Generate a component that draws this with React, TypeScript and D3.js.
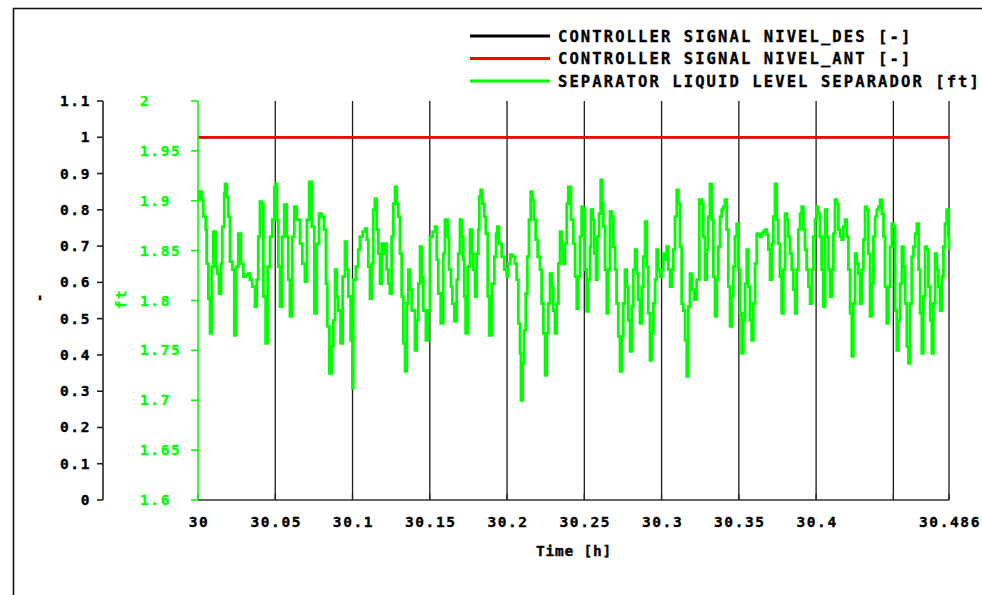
import React from 'react';
import * as d3 from 'd3';

const xTicks = [30, 30.05, 30.1, 30.15, 30.2, 30.25, 30.3, 30.35, 30.4, 30.45, 30.486];
const xTickLabels = ['30', '30.05', '30.1', '30.15', '30.2', '30.25', '30.3', '30.35', '30.4', '', '30.486'];
const leftTicks = [0, 0.1, 0.2, 0.3, 0.4, 0.5, 0.6, 0.7, 0.8, 0.9, 1, 1.1];
const leftTickLabels = ['0', '0.1', '0.2', '0.3', '0.4', '0.5', '0.6', '0.7', '0.8', '0.9', '1', '1.1'];
const rightTicks = [1.6, 1.65, 1.7, 1.75, 1.8, 1.85, 1.9, 1.95, 2];
const rightTickLabels = ['1.6', '1.65', '1.7', '1.75', '1.8', '1.85', '1.9', '1.95', '2'];

const signalTime = [30, 30.486];
const nivelDes = [1, 1];
const nivelAnt = [1, 1];

const legendLabels = [
  'CONTROLLER SIGNAL NIVEL_DES [-]',
  'CONTROLLER SIGNAL NIVEL_ANT [-]',
  'SEPARATOR LIQUID LEVEL SEPARADOR [ft]',
];
const legendColors = ['#000000', '#ff0000', '#00ff00'];

const levelSeries: [number, number][] = [
  [30.0, 1.902], [30.0006, 1.909], [30.0024, 1.901], [30.0034, 1.884], [30.005, 1.871], [30.0056, 1.837],
  [30.0067, 1.802], [30.0078, 1.767], [30.0089, 1.834], [30.0099, 1.869], [30.0115, 1.834], [30.0125, 1.827],
  [30.0136, 1.807], [30.0149, 1.837], [30.0157, 1.874], [30.017, 1.907], [30.0175, 1.917], [30.0186, 1.904],
  [30.0196, 1.884], [30.0207, 1.839], [30.0222, 1.831], [30.0235, 1.765], [30.0246, 1.834], [30.0261, 1.867],
  [30.0278, 1.837], [30.0293, 1.824], [30.0309, 1.826], [30.0325, 1.827], [30.0336, 1.821], [30.0351, 1.814],
  [30.0369, 1.794], [30.038, 1.821], [30.039, 1.864], [30.0401, 1.899], [30.0412, 1.897], [30.0423, 1.804],
  [30.0438, 1.757], [30.0451, 1.834], [30.0466, 1.864], [30.0481, 1.881], [30.0494, 1.914], [30.0503, 1.917],
  [30.0511, 1.881], [30.052, 1.834], [30.0531, 1.794], [30.0545, 1.864], [30.0558, 1.896], [30.0574, 1.864],
  [30.0584, 1.821], [30.0595, 1.784], [30.061, 1.864], [30.0623, 1.894], [30.0639, 1.881], [30.066, 1.857],
  [30.0675, 1.837], [30.0692, 1.819], [30.0705, 1.881], [30.072, 1.919], [30.0736, 1.874], [30.0753, 1.787],
  [30.0768, 1.857], [30.0783, 1.887], [30.08, 1.884], [30.0815, 1.871], [30.0828, 1.817], [30.0837, 1.774],
  [30.085, 1.727], [30.0865, 1.754], [30.0876, 1.78], [30.0887, 1.831], [30.0898, 1.804], [30.0908, 1.79],
  [30.0923, 1.757], [30.0936, 1.824], [30.0951, 1.859], [30.0962, 1.831], [30.0973, 1.804], [30.0988, 1.76],
  [30.0999, 1.712], [30.1005, 1.821], [30.1022, 1.834], [30.1037, 1.851], [30.1048, 1.864], [30.1066, 1.869],
  [30.1081, 1.872], [30.1092, 1.861], [30.1102, 1.834], [30.1113, 1.802], [30.1124, 1.837], [30.1134, 1.891],
  [30.1145, 1.902], [30.1156, 1.871], [30.1167, 1.847], [30.1178, 1.817], [30.1189, 1.857], [30.1199, 1.847],
  [30.121, 1.857], [30.1221, 1.831], [30.1231, 1.817], [30.1242, 1.807], [30.1253, 1.864], [30.1264, 1.897],
  [30.1275, 1.914], [30.1286, 1.897], [30.1296, 1.884], [30.1307, 1.847], [30.1318, 1.804], [30.1329, 1.757],
  [30.134, 1.729], [30.1351, 1.797], [30.1361, 1.831], [30.1372, 1.811], [30.1383, 1.79], [30.1404, 1.75],
  [30.1415, 1.78], [30.1426, 1.817], [30.1437, 1.854], [30.1448, 1.824], [30.1458, 1.79], [30.1475, 1.76],
  [30.149, 1.79], [30.1501, 1.864], [30.1519, 1.869], [30.1534, 1.874], [30.1545, 1.841], [30.1555, 1.807],
  [30.1571, 1.777], [30.1587, 1.847], [30.1598, 1.881], [30.1616, 1.864], [30.1624, 1.831], [30.1637, 1.814],
  [30.1646, 1.797], [30.1659, 1.779], [30.1674, 1.821], [30.1684, 1.847], [30.1695, 1.881], [30.1706, 1.864],
  [30.1717, 1.841], [30.1723, 1.804], [30.1732, 1.767], [30.1745, 1.834], [30.176, 1.871], [30.1771, 1.847],
  [30.1782, 1.831], [30.1793, 1.804], [30.1803, 1.847], [30.1814, 1.871], [30.182, 1.904], [30.1829, 1.911],
  [30.184, 1.897], [30.1853, 1.884], [30.1862, 1.867], [30.1875, 1.804], [30.1885, 1.765], [30.1901, 1.817],
  [30.1918, 1.844], [30.1929, 1.867], [30.1937, 1.874], [30.1948, 1.857], [30.1965, 1.844], [30.1982, 1.831],
  [30.1998, 1.824], [30.2008, 1.837], [30.2021, 1.846], [30.2034, 1.844], [30.2051, 1.837], [30.2062, 1.821],
  [30.2073, 1.777], [30.2084, 1.747], [30.209, 1.7], [30.2101, 1.737], [30.211, 1.77], [30.2121, 1.807],
  [30.2131, 1.844], [30.2142, 1.881], [30.2153, 1.909], [30.2163, 1.901], [30.2174, 1.881], [30.2185, 1.861],
  [30.2198, 1.844], [30.2213, 1.831], [30.2224, 1.797], [30.2235, 1.767], [30.2246, 1.725], [30.2257, 1.767],
  [30.2267, 1.797], [30.2278, 1.827], [30.2289, 1.814], [30.2299, 1.79], [30.231, 1.767], [30.2321, 1.797],
  [30.2332, 1.837], [30.2343, 1.869], [30.2354, 1.851], [30.2364, 1.837], [30.2375, 1.857], [30.2386, 1.897],
  [30.2396, 1.914], [30.2414, 1.881], [30.2429, 1.857], [30.244, 1.824], [30.2451, 1.792], [30.2461, 1.824],
  [30.2472, 1.864], [30.2483, 1.894], [30.2493, 1.891], [30.2504, 1.831], [30.2515, 1.789], [30.2526, 1.821],
  [30.2537, 1.854], [30.2543, 1.891], [30.2554, 1.881], [30.2565, 1.847], [30.2576, 1.821], [30.2584, 1.864],
  [30.2595, 1.887], [30.2606, 1.921], [30.2616, 1.897], [30.2623, 1.874], [30.2634, 1.831], [30.2645, 1.787],
  [30.2655, 1.831], [30.2666, 1.889], [30.2677, 1.884], [30.2688, 1.854], [30.2699, 1.831], [30.2709, 1.797],
  [30.272, 1.764], [30.2731, 1.729], [30.2742, 1.764], [30.2752, 1.797], [30.2763, 1.831], [30.2774, 1.814],
  [30.2785, 1.78], [30.2796, 1.749], [30.2807, 1.794], [30.2817, 1.831], [30.2828, 1.851], [30.2839, 1.827],
  [30.2849, 1.801], [30.286, 1.777], [30.2871, 1.814], [30.2882, 1.844], [30.2893, 1.879], [30.2904, 1.834],
  [30.2914, 1.787], [30.2925, 1.74], [30.2936, 1.767], [30.2947, 1.797], [30.2958, 1.821], [30.2968, 1.851],
  [30.2979, 1.831], [30.299, 1.824], [30.3001, 1.831], [30.3011, 1.847], [30.3022, 1.841], [30.3033, 1.854],
  [30.3044, 1.831], [30.3055, 1.814], [30.3066, 1.831], [30.3076, 1.851], [30.3087, 1.884], [30.3098, 1.911],
  [30.3109, 1.897], [30.3119, 1.854], [30.313, 1.797], [30.3141, 1.79], [30.3152, 1.76], [30.3163, 1.724],
  [30.3173, 1.794], [30.3184, 1.827], [30.3195, 1.811], [30.321, 1.801], [30.3227, 1.821], [30.3244, 1.901],
  [30.326, 1.897], [30.327, 1.864], [30.3281, 1.821], [30.3292, 1.851], [30.3302, 1.884], [30.3313, 1.917],
  [30.3324, 1.881], [30.3335, 1.824], [30.3346, 1.784], [30.3357, 1.821], [30.3367, 1.854], [30.3378, 1.884],
  [30.3389, 1.891], [30.3399, 1.894], [30.341, 1.901], [30.3421, 1.871], [30.3432, 1.814], [30.3443, 1.774],
  [30.3454, 1.804], [30.3464, 1.834], [30.3475, 1.864], [30.3486, 1.877], [30.3496, 1.831], [30.3507, 1.787],
  [30.3518, 1.747], [30.3529, 1.78], [30.354, 1.817], [30.3551, 1.851], [30.3561, 1.814], [30.3572, 1.78],
  [30.3583, 1.76], [30.3594, 1.797], [30.3605, 1.837], [30.3616, 1.867], [30.3626, 1.866], [30.3637, 1.864],
  [30.3648, 1.867], [30.3658, 1.869], [30.3669, 1.871], [30.368, 1.866], [30.3691, 1.851], [30.3702, 1.821],
  [30.3713, 1.857], [30.3723, 1.884], [30.3734, 1.917], [30.3745, 1.881], [30.3755, 1.857], [30.3766, 1.824],
  [30.3777, 1.787], [30.3788, 1.831], [30.3799, 1.887], [30.381, 1.881], [30.382, 1.864], [30.3831, 1.847],
  [30.3842, 1.831], [30.3853, 1.811], [30.3864, 1.787], [30.3874, 1.831], [30.3885, 1.871], [30.3896, 1.887],
  [30.3907, 1.894], [30.3918, 1.871], [30.3928, 1.851], [30.3939, 1.831], [30.395, 1.814], [30.3961, 1.797],
  [30.3972, 1.831], [30.3982, 1.864], [30.3993, 1.881], [30.4004, 1.894], [30.4014, 1.887], [30.4025, 1.864],
  [30.4036, 1.831], [30.4047, 1.794], [30.4058, 1.891], [30.4069, 1.864], [30.408, 1.831], [30.409, 1.804],
  [30.4101, 1.831], [30.4112, 1.867], [30.4122, 1.901], [30.4133, 1.897], [30.4144, 1.871], [30.4155, 1.864],
  [30.4166, 1.861], [30.4176, 1.874], [30.4187, 1.881], [30.4198, 1.864], [30.4209, 1.831], [30.422, 1.787],
  [30.4231, 1.744], [30.4241, 1.797], [30.4252, 1.847], [30.4263, 1.837], [30.4274, 1.827], [30.4285, 1.797],
  [30.4295, 1.831], [30.4306, 1.861], [30.4317, 1.894], [30.4328, 1.891], [30.4338, 1.847], [30.4349, 1.784],
  [30.436, 1.817], [30.4371, 1.864], [30.4382, 1.884], [30.4393, 1.891], [30.4403, 1.894], [30.4414, 1.901],
  [30.4425, 1.887], [30.4436, 1.864], [30.4446, 1.814], [30.4457, 1.777], [30.4468, 1.814], [30.4479, 1.854],
  [30.449, 1.877], [30.45, 1.874], [30.4511, 1.79], [30.4522, 1.75], [30.4533, 1.78], [30.4544, 1.817],
  [30.4555, 1.854], [30.4565, 1.834], [30.4576, 1.797], [30.4587, 1.754], [30.4598, 1.737], [30.4608, 1.797],
  [30.4619, 1.844], [30.463, 1.854], [30.4641, 1.867], [30.4652, 1.877], [30.4663, 1.831], [30.4673, 1.787],
  [30.4684, 1.747], [30.4694, 1.804], [30.4705, 1.854], [30.4716, 1.851], [30.4727, 1.814], [30.4738, 1.78],
  [30.4749, 1.747], [30.4759, 1.797], [30.477, 1.847], [30.4781, 1.831], [30.4791, 1.814], [30.4802, 1.79],
  [30.4813, 1.824], [30.4824, 1.854], [30.4834, 1.877], [30.4845, 1.891], [30.4856, 1.864], [30.486, 1.851],
];

const W = 982;
const H = 595;
const FONT = '"DejaVu Sans Mono", monospace';
const GREEN = '#00ff00';

export default function App() {
  const x = d3.scaleLinear().domain([30, 30.486]).range([198, 949]);
  const yL = d3.scaleLinear().domain([0, 1.1]).range([500, 101]);
  const yR = d3.scaleLinear().domain([1.6, 2]).range([500, 101]);

  const lineL = d3
    .line<number>()
    .x((_, i) => x(signalTime[i]))
    .y((d) => yL(d));
  const lineLevel = d3
    .line<[number, number]>()
    .x((d) => x(d[0]))
    .y((d) => yR(d[1]))
    .curve(d3.curveStepAfter);

  const [x0, x1] = x.range();
  const [yBottom, yTop] = yL.range();
  const tickFont = {
    fontFamily: FONT,
    fontWeight: 700,
    fontSize: 14.5,
    letterSpacing: 1.6,
    stroke: 'currentColor',
    strokeWidth: 0.35,
  };

  return (
    <svg
      width={W}
      height={H}
      viewBox={`0 0 ${W} ${H}`}
      style={{ position: 'absolute', left: 0, top: 0, background: '#fff' }}
    >
      <rect x={0} y={0} width={W} height={H} fill="#ffffff" />
      {/* outer frame */}
      <path d={`M13.5,${H + 2} V8.5 H${W + 2}`} fill="none" stroke="#111" strokeWidth={1.6} />

      {/* legend */}
      {legendLabels.map((lab, i) => (
        <g key={lab} color="#000">
          <line x1={470} x2={550} y1={36 + i * 22.5} y2={36 + i * 22.5} stroke={legendColors[i]} strokeWidth={3} />
          <text
            x={558}
            y={41.5 + i * 22.5}
            fontFamily={FONT}
            fontWeight={700}
            fontSize={15.5}
            letterSpacing={2.1}
            stroke="#000"
            strokeWidth={0.35}
            fill="#000"
          >
            {lab}
          </text>
        </g>
      ))}

      {/* vertical grid lines */}
      {xTicks.slice(1).map((t) => (
        <line key={t} x1={x(t)} x2={x(t)} y1={yTop} y2={yBottom} stroke="#1a1a1a" strokeWidth={1.3} />
      ))}

      {/* signals */}
      <path d={lineL(nivelDes) || ''} fill="none" stroke="#000" strokeWidth={2.5} />
      <path d={lineL(nivelAnt) || ''} fill="none" stroke="#ff0000" strokeWidth={2.5} />

      {/* separator level */}
      <path d={lineLevel(levelSeries) || ''} fill="none" stroke={GREEN} strokeWidth={2.8} strokeLinejoin="miter" />

      {/* x axis */}
      <line x1={x0} x2={x1} y1={yBottom} y2={yBottom} stroke="#333" strokeWidth={1.6} />
      <g color="#000">
        {xTicks.map((t, i) => (
          <g key={t}>
            <line x1={x(t)} x2={x(t)} y1={yBottom} y2={yBottom - 6} stroke="#222" strokeWidth={1.3} />
            <text x={x(t) + 1} y={527} textAnchor="middle" {...tickFont} fill="#000">
              {xTickLabels[i]}
            </text>
          </g>
        ))}
        <text x={574} y={556} textAnchor="middle" {...tickFont} letterSpacing={0.8} fill="#000">
          Time [h]
        </text>
      </g>

      {/* left axis */}
      <g color="#000">
        <line x1={103} x2={103} y1={yTop} y2={yBottom} stroke="#222" strokeWidth={1.6} />
        {leftTicks.map((t, i) => (
          <g key={t}>
            <line x1={97} x2={103} y1={yL(t)} y2={yL(t)} stroke="#222" strokeWidth={1.6} />
            <text x={91} y={yL(t) + 5} textAnchor="end" {...tickFont} fill="#000">
              {leftTickLabels[i]}
            </text>
          </g>
        ))}
        <text transform={`translate(44,297) rotate(-90)`} textAnchor="middle" {...tickFont} fill="#000">
          -
        </text>
      </g>

      {/* right (green) axis */}
      <g color={GREEN}>
        <line x1={198} x2={198} y1={yTop} y2={yBottom} stroke={GREEN} strokeWidth={1.6} />
        {rightTicks.map((t, i) => (
          <g key={t}>
            <line x1={191} x2={198} y1={yR(t)} y2={yR(t)} stroke={GREEN} strokeWidth={1.6} />
            <text x={140} y={yR(t) + 5} textAnchor="start" {...tickFont} fill={GREEN}>
              {rightTickLabels[i]}
            </text>
          </g>
        ))}
        <text transform={`translate(126,299) rotate(-90)`} textAnchor="middle" {...tickFont} fill={GREEN}>
          ft
        </text>
      </g>
    </svg>
  );
}
